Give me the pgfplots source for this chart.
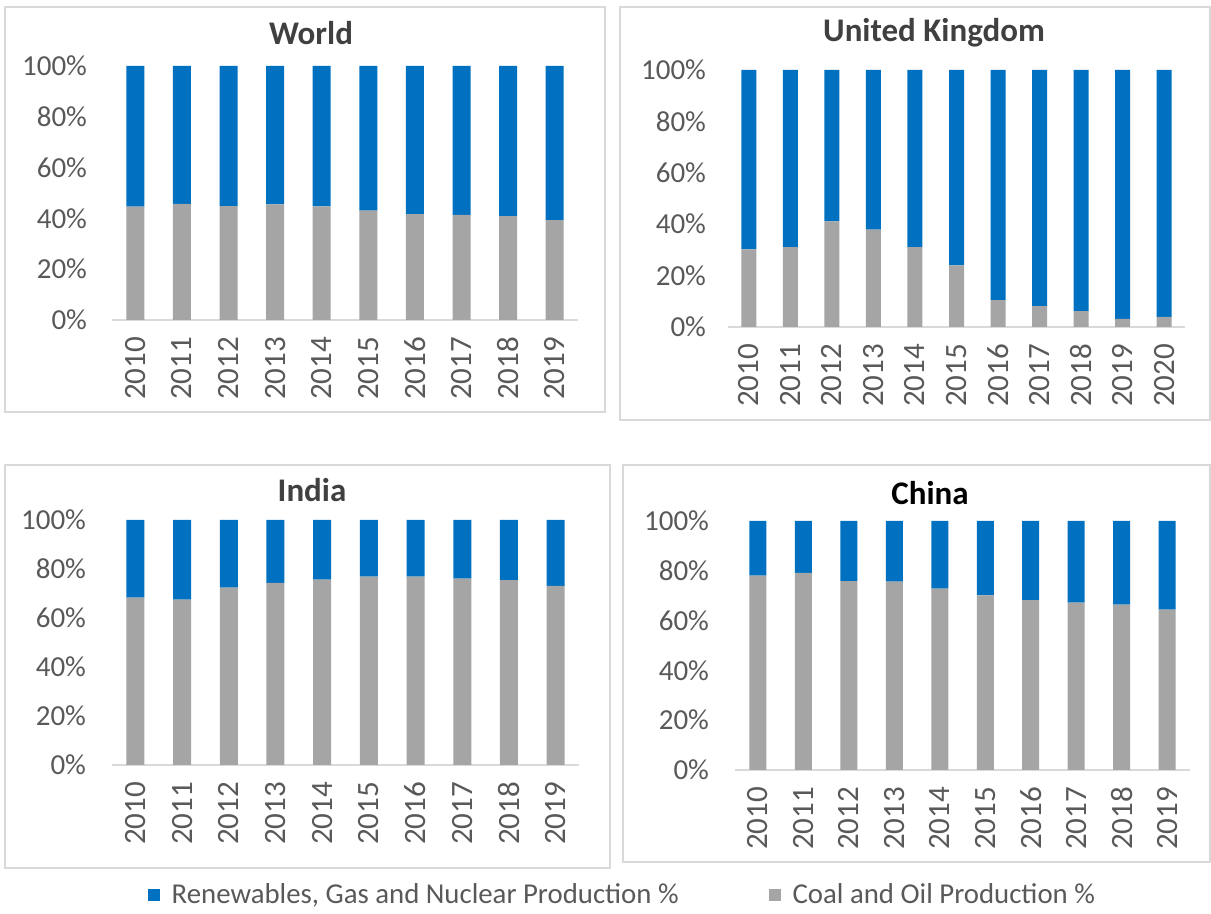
\documentclass[border=0pt]{standalone}
\usepackage{fontspec}
\setmainfont{Carlito}
\usepackage{pgfplots}
\pgfplotsset{compat=1.18}
\definecolor{blueC}{HTML}{0070C0}
\definecolor{greyC}{HTML}{A5A5A5}
\definecolor{txt}{HTML}{595959}
\definecolor{ttl}{HTML}{404040}
\definecolor{frameC}{HTML}{D9D9D9}

\pgfplotsset{panel/.style={
  scale only axis, anchor=south west,
  ybar stacked,
  ymin=0, ymax=100,
  ytick={0,20,40,60,80,100},
  yticklabels={0\%,20\%,40\%,60\%,80\%,100\%},
  major tick length=0pt,
  axis x line*=bottom, axis y line*=left,
  x axis line style={draw=frameC, line width=1pt, -},
  y axis line style={draw=none},
  tick label style={text=txt},
  yticklabel style={font=\fontsize{14.5}{16}\selectfont},
  xticklabel style={font=\fontsize{15.5}{17}\selectfont, rotate=90, anchor=east},
  xticklabel shift=5pt,
  yticklabel shift=9pt,
  clip=false,
}}

\begin{document}
\begin{tikzpicture}
\useasboundingbox (0,0) rectangle (605.5pt,457pt);
% frames
\draw[frameC, line width=0.8pt] (2.5pt,251pt) rectangle (302.5pt,453.5pt);
\draw[frameC, line width=0.8pt] (310pt,247pt) rectangle (605pt,453.5pt);
\draw[frameC, line width=0.8pt] (2.5pt,23pt) rectangle (305pt,224.5pt);
\draw[frameC, line width=0.8pt] (311.5pt,26pt) rectangle (605pt,224.5pt);

% World
\begin{axis}[panel, at={(56pt,297pt)}, width=233pt, height=127pt,
  bar width=9pt, xmin=-0.5, xmax=9.5,
  xtick={0,...,9}, xticklabels={2010,2011,2012,2013,2014,2015,2016,2017,2018,2019}]
\addplot[fill=greyC, draw=none] coordinates {(0,44.6) (1,45.7) (2,44.8) (3,45.5) (4,44.7) (5,43.1) (6,41.7) (7,41.4) (8,40.9) (9,39.3)};
\addplot[fill=blueC, draw=none] coordinates {(0,55.4) (1,54.3) (2,55.2) (3,54.5) (4,55.3) (5,56.9) (6,58.3) (7,58.6) (8,59.1) (9,60.7)};
\end{axis}
\node[font=\fontsize{16.5}{18}\selectfont\bfseries, text=ttl] at (155.5pt,440.5pt) {World};

% United Kingdom
\begin{axis}[panel, at={(364pt,293.5pt)}, width=228.5pt, height=128.5pt,
  bar width=7.5pt, xmin=-0.5, xmax=10.5, yticklabel shift=7.5pt,
  xtick={0,...,10}, xticklabels={2010,2011,2012,2013,2014,2015,2016,2017,2018,2019,2020}]
\addplot[fill=greyC, draw=none] coordinates {(0,30.2) (1,31.1) (2,41.1) (3,37.9) (4,31.1) (5,24.0) (6,10.5) (7,8.1) (8,6.2) (9,3.2) (10,3.9)};
\addplot[fill=blueC, draw=none] coordinates {(0,69.8) (1,68.9) (2,58.9) (3,62.1) (4,68.9) (5,76.0) (6,89.5) (7,91.9) (8,93.8) (9,96.8) (10,96.1)};
\end{axis}
\node[font=\fontsize{16.5}{18}\selectfont\bfseries, text=ttl] at (467pt,440.5pt) {United Kingdom};

% India
\begin{axis}[panel, at={(56pt,74.5pt)}, width=233.5pt, height=122.5pt,
  bar width=9pt, xmin=-0.5, xmax=9.5, yticklabel shift=9.5pt,
  xtick={0,...,9}, xticklabels={2010,2011,2012,2013,2014,2015,2016,2017,2018,2019},
  legend style={at={(1.095,-0.53)}, anchor=center, draw=none, fill=none,
    font=\fontsize{14.4}{16}\selectfont, text=txt, legend columns=2,
    /tikz/every odd column/.append style={column sep=4pt},
    /tikz/every even column/.append style={column sep=43pt}},
  legend image code/.code={\fill[#1] (0pt,-3pt) rectangle (6pt,3pt);}]
\addplot[fill=greyC, draw=none, forget plot] coordinates {(0,68.3) (1,67.5) (2,72.4) (3,74.3) (4,75.7) (5,76.9) (6,76.9) (7,76.1) (8,75.5) (9,73.1)};
\addplot[fill=blueC, draw=none, forget plot] coordinates {(0,31.7) (1,32.5) (2,27.6) (3,25.7) (4,24.3) (5,23.1) (6,23.1) (7,23.9) (8,24.5) (9,26.9)};
\addlegendimage{fill=blueC, draw=none}
\addlegendentry{Renewables, Gas and Nuclear Production \%}
\addlegendimage{fill=greyC, draw=none}
\addlegendentry{Coal and Oil Production \%}
\end{axis}
\node[font=\fontsize{16.5}{18}\selectfont\bfseries, text=ttl] at (156pt,212pt) {India};

% China
\begin{axis}[panel, at={(367.5pt,72pt)}, width=227.5pt, height=124.5pt,
  bar width=8.5pt, xmin=-0.5, xmax=9.5, yticklabel shift=9.5pt,
  xtick={0,...,9}, xticklabels={2010,2011,2012,2013,2014,2015,2016,2017,2018,2019}]
\addplot[fill=greyC, draw=none] coordinates {(0,78.1) (1,79.2) (2,75.8) (3,75.6) (4,72.8) (5,70.1) (6,68.2) (7,67.2) (8,66.4) (9,64.4)};
\addplot[fill=blueC, draw=none] coordinates {(0,21.9) (1,20.8) (2,24.2) (3,24.4) (4,27.2) (5,29.9) (6,31.8) (7,32.8) (8,33.6) (9,35.6)};
\end{axis}
\node[font=\fontsize{16.5}{18}\selectfont\bfseries, text=black] at (465pt,210.5pt) {China};
\end{tikzpicture}
\end{document}
